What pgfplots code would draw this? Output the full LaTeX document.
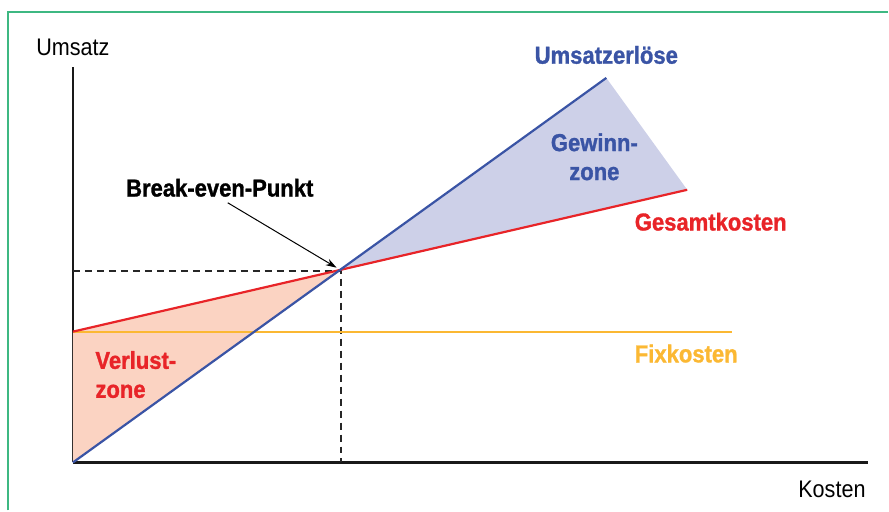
\documentclass[border=0pt]{standalone}
\usepackage{fontspec}
\setmainfont{Liberation Sans}
\newfontfamily\cond[FakeStretch=0.9]{Liberation Sans}
\newfontfamily\condb[FakeStretch=0.9,FakeBold=1.2]{Liberation Sans Bold}
\usepackage{pgfplots}
\pgfplotsset{compat=1.18}
\usetikzlibrary{arrows.meta}
\definecolor{ublue}{RGB}{58,84,165}
\definecolor{ured}{RGB}{232,36,40}
\definecolor{uorange}{RGB}{251,184,51}
\definecolor{gfill}{RGB}{205,208,232}
\definecolor{vfill}{RGB}{251,211,194}
\definecolor{frame}{RGB}{62,184,130}
\begin{document}
\begin{tikzpicture}
\begin{axis}[
  scale only axis, width=796pt, height=396pt,
  xmin=0, xmax=796, ymin=0, ymax=396,
  axis x line=bottom, axis y line=left,
  axis line style={-, line width=2.6pt, black!90},
  xtick=\empty, ytick=\empty,
  clip=false,
]
% zones
\addplot[fill=gfill, draw=none] coordinates {(268,192) (534,385) (615,273)} -- cycle;
\addplot[fill=vfill, draw=none] coordinates {(0,0) (0,131) (268,192)} -- cycle;
% dashed guides
\addplot[black!85, line width=2.2pt, dash pattern=on 7pt off 5pt] coordinates {(0,192) (268,192) (268,0)};
% lines
\addplot[draw=uorange, line width=2.2pt] coordinates {(0,131) (660,131)};
\addplot[draw=ured, line width=2.2pt] coordinates {(0,131) (615,273)};
\addplot[draw=ublue, line width=2.2pt] coordinates {(0,0) (534,385)};
% arrow
\draw[-{Stealth[length=11pt,width=7pt]}, line width=1pt] (axis cs:155,260) -- (axis cs:264,195);
% labels
\node[font=\cond\fontsize{24}{26}\selectfont] at (axis cs:0,416) {Umsatz};
\node[font=\cond\fontsize{24}{26}\selectfont, anchor=east] at (axis cs:797,-27) {Kosten};
\node[font=\condb\fontsize{24.5}{26}\selectfont, text=ublue] at (axis cs:534,408) {Umsatzerlöse};
\node[font=\condb\fontsize{24.5}{29}\selectfont, text=ublue, align=center] at (axis cs:522,306) {Gewinn-\\zone};
\node[font=\condb\fontsize{24.5}{26}\selectfont, text=ured, anchor=west] at (axis cs:559,241) {Gesamtkosten};
\node[font=\condb\fontsize{24.5}{26}\selectfont, text=uorange, anchor=west] at (axis cs:559,109) {Fixkosten};
\node[font=\condb\fontsize{24.5}{29}\selectfont, text=ured, align=left, anchor=west] at (axis cs:19,88) {Verlust-\\zone};
\node[font=\condb\fontsize{24.5}{26}\selectfont] at (axis cs:147,275) {Break-even-Punkt};
\end{axis}
\draw[frame, line width=2pt] (-65pt,-48pt) -- (-65pt,451pt) -- (816pt,451pt);
\useasboundingbox (-73pt,-48pt) rectangle (816pt,463pt);
\end{tikzpicture}
\end{document}
